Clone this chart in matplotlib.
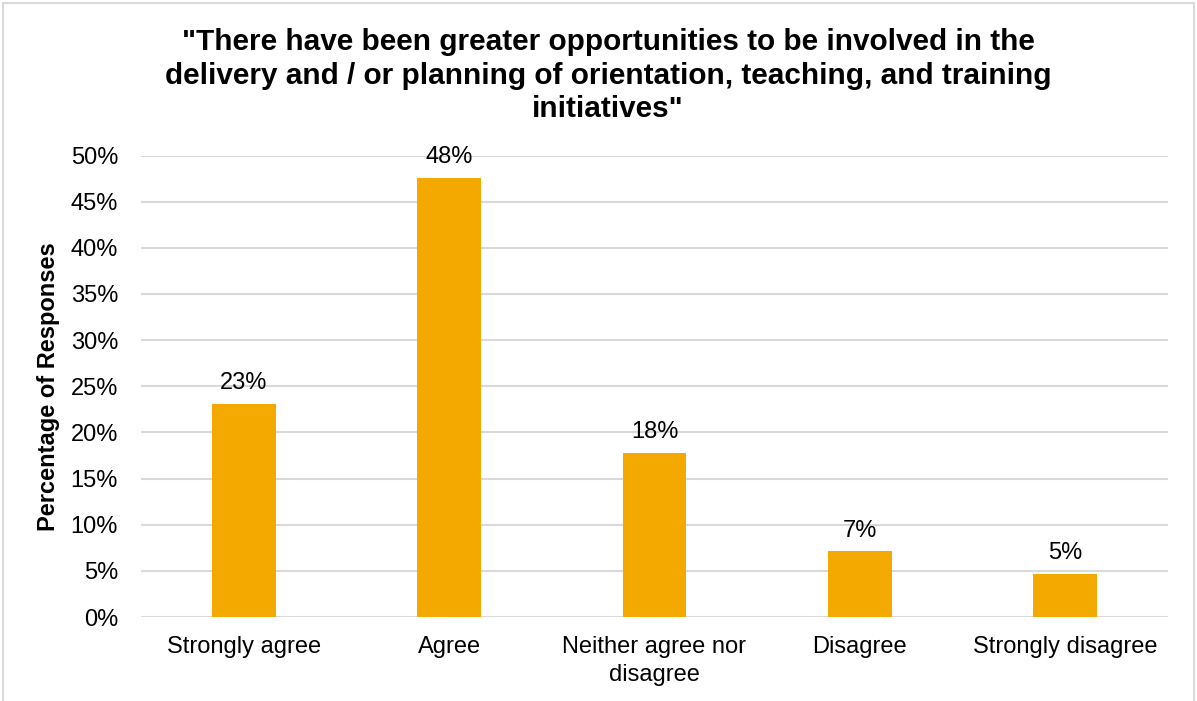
import matplotlib
matplotlib.use("Agg")
import matplotlib.pyplot as plt
from matplotlib.patches import Rectangle
from matplotlib.ticker import FuncFormatter

categories = ["Strongly agree", "Agree", "Neither agree nor\ndisagree", "Disagree", "Strongly disagree"]
values = [23.1, 47.6, 17.8, 7.1, 4.7]
value_labels = ["23%", "48%", "18%", "7%", "5%"]
y_ticks = [0, 5, 10, 15, 20, 25, 30, 35, 40, 45, 50]

title = ('"There have been greater opportunities to be involved in the\n'
         'delivery and / or planning of orientation, teaching, and training\n'
         'initiatives"')

plt.rcParams['font.family'] = ['Liberation Sans', 'DejaVu Sans']

W, H = 1197, 701
fig = plt.figure(figsize=(W / 100, H / 100), dpi=100)

# chart border
fig.patches.append(Rectangle((3 / W, -0.01), (1194 - 3) / W, 1.0 - 2.5 / H + 0.01,
                             transform=fig.transFigure, fill=False,
                             edgecolor="#D9D9D9", linewidth=1.5))

ax = fig.add_axes([141 / W, 1 - 617 / H, (1168 - 141) / W, (617 - 155.5) / H])

x = range(len(categories))
ax.bar(x, values, width=0.31, color="#F4A900", zorder=3)
for xi, v, lab in zip(x, values, value_labels):
    ax.annotate(lab, (xi, v), xytext=(0, 7), textcoords="offset points",
                ha="center", va="bottom", fontsize=17, color="#000000")

ax.set_xlim(-0.5, len(categories) - 0.5)
ax.set_ylim(0, 50)
ax.set_yticks(y_ticks)
ax.yaxis.set_major_formatter(FuncFormatter(lambda v, p: f"{v:.0f}%"))
ax.set_xticks(list(x))
ax.set_xticklabels(categories, fontsize=17, linespacing=1.35)
ax.tick_params(axis="y", labelsize=17, length=0, pad=16.5)
ax.tick_params(axis="x", length=0, pad=14)
ax.grid(axis="y", color="#D9D9D9", linewidth=1.5, zorder=0)
for s in ax.spines.values():
    s.set_visible(False)

ax.set_ylabel("Percentage of Responses", fontsize=17, fontweight="bold", labelpad=8)

fig.text(608 / W, 1 - 28 / H, title, ha="center", va="top", fontsize=21.4,
         fontweight="bold", linespacing=1.25)

fig.savefig("out.png", dpi=100)
